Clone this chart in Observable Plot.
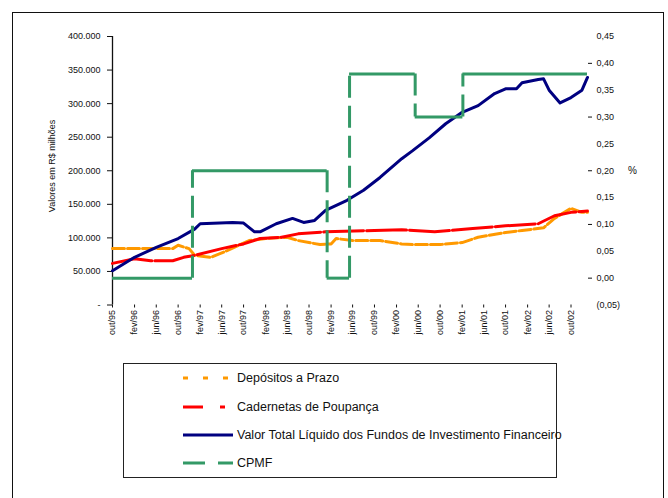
<!DOCTYPE html>
<html>
<head>
<meta charset="utf-8">
<script src="https://cdn.jsdelivr.net/npm/d3@7"></script>
<script src="https://cdn.jsdelivr.net/npm/@observablehq/plot@0.6"></script>
<style>
  html, body { margin: 0; padding: 0; background: #fff; overflow: hidden; }
  #quadro { position: relative; width: 668px; height: 498px; overflow: hidden;
            font-family: "Liberation Sans", Arial, sans-serif; color: #111; }
  #borda { position: absolute; left: 12px; top: 12px; width: 650px; height: 600px;
           border: 1.5px solid #111; }
  #grafico { position: absolute; left: 0; top: 0; }
  .rotulo { position: absolute; white-space: nowrap; }
  #titulo-esq { left: 52px; top: 166px; font-size: 9px;
                transform: translate(-50%, -50%) rotate(-90deg); }
  #titulo-dir { left: 628px; top: 165px; font-size: 10px; }
  #legenda { position: absolute; left: 123px; top: 363px; width: 432px; height: 113px;
             border: 1.5px solid #222; }
  .item { position: absolute; left: 183px; height: 16px; line-height: 16px;
          font-size: 12.5px; white-space: nowrap; }
  .item svg { position: absolute; left: 0; top: 6px; }
  .item span { position: absolute; left: 54px; top: 0; }
</style>
</head>
<body>
<div id="quadro">
  <div id="borda"></div>
  <div id="grafico"></div>
  <div class="rotulo" id="titulo-esq">Valores em R$ milhões</div>
  <div class="rotulo" id="titulo-dir">%</div>
  <div id="legenda"></div>
  <div id="itens"></div>
</div>
<script>
// Depósitos a prazo (R$ milhões)
const depositosDatas = ["1995-10","1996-09","1996-10","1996-12","1997-01","1997-04","1997-07","1997-11",
  "1998-02","1998-06","1998-08","1998-12","1999-02","1999-03","1999-06","1999-11","2000-03","2000-05",
  "2000-10","2001-02","2001-05","2001-10","2002-01","2002-05","2002-07","2002-10","2002-12","2003-01"];
const depositosValores = [84000,84000,89000,84000,74000,71000,81000,96000,
  99000,101000,96000,90000,91000,99000,96000,96000,91000,90000,
  90000,93000,101000,108000,111000,115000,129000,144000,138000,138000];

// Cadernetas de poupança (R$ milhões)
const poupancaDatas = ["1995-10","1996-02","1996-05","1996-09","1996-11","1997-01","1997-06","1997-10",
  "1998-01","1998-05","1998-08","1999-01","1999-10","2000-03","2000-09","2001-04","2001-10","2002-04",
  "2002-07","2002-10","2003-01"];
const poupancaValores = [62000,69000,66000,66000,71000,74000,84000,91000,
  99000,101000,106000,109000,111000,112000,109000,114000,118000,121000,
  133000,138000,140000];

// Fundos de investimento (R$ milhões)
const fundosDatas = ["1995-10","1996-02","1996-06","1996-10","1997-01","1997-02","1997-08","1997-10",
  "1997-12","1998-01","1998-04","1998-07","1998-09","1998-11","1999-01","1999-05","1999-08","1999-11",
  "2000-03","2000-05","2000-08","2000-11","2001-02","2001-05","2001-08","2001-10","2001-12","2002-01",
  "2002-04","2002-05","2002-06","2002-08","2002-10","2002-12","2003-01"];
const fundosValores = [51000,71000,86000,99000,113000,121000,123000,122000,
  109000,109000,121000,129000,123000,126000,141000,156000,171000,190000,
  218000,230000,249000,270000,287000,297000,315000,322000,322000,331000,
  336000,337000,320000,301000,309000,320000,339000];

// Alíquota da CPMF (%), por período de vigência
const cpmfInicio = ["1995-10-01","1996-12-20","1999-01-10","1999-05-15","2000-05-15","2001-02-05"];
const cpmfAliquota = [0, 0.20, 0, 0.38, 0.30, 0.38];
const fimPeriodo = "2003-01-01";

// Eixos
const ticksValores = [0, 50000, 100000, 150000, 200000, 250000, 300000, 350000, 400000];
const ticksPercentual = [-0.05, 0, 0.05, 0.10, 0.15, 0.20, 0.25, 0.30, 0.35, 0.40, 0.45];
const marcasPercentual = [0, 0.10, 0.20, 0.30, 0.40];
const datasEixoX = ["1995-10","1996-02","1996-06","1996-10","1997-02","1997-06","1997-10","1998-02",
  "1998-06","1998-10","1999-02","1999-06","1999-10","2000-02","2000-06","2000-10","2001-02","2001-06",
  "2001-10","2002-02","2002-06","2002-10"];
const mesesPt = ["jan","fev","mar","abr","mai","jun","jul","ago","set","out","nov","dez"];

const nomes = ["Depósitos a Prazo", "Cadernetas de Poupança",
  "Valor Total Líquido dos Fundos de Investimento Financeiro", "CPMF"];
const cores = ["#FF9900", "#FF0000", "#000080", "#339966"];

const dt = s => new Date(s.length === 7 ? s + "-01" : s);
const serie = (datas, valores) => datas.map((d, i) => ({data: dt(d), valor: valores[i]}));

// the percentage axis shares the vertical scale: -0,05% ↔ 0 and 0,45% ↔ 400.000
const paraEsq = p => (p + 0.05) * 800000;
const deEsq = v => v / 800000 - 0.05;
const fmtPct = p => {
  const r = Math.round(p * 100) / 100;
  const s = Math.abs(r).toFixed(2).replace(".", ",");
  return r < 0 ? `(${s})` : s;
};
const fmtValor = v => v === 0 ? "-" : d3.format(",")(v).replace(/,/g, ".");

const depositos = serie(depositosDatas, depositosValores);
const poupanca = serie(poupancaDatas, poupancaValores);
const fundos = serie(fundosDatas, fundosValores);
const periodos = cpmfInicio.map((d, i) => ({
  inicio: dt(d), fim: dt(cpmfInicio[i + 1] ?? fimPeriodo), y: paraEsq(cpmfAliquota[i])
}));
const trocas = cpmfInicio.slice(1).map((d, i) => ({
  data: dt(d), de: paraEsq(cpmfAliquota[i]), para: paraEsq(cpmfAliquota[i + 1])
}));

const chart = Plot.plot({
  width: 668,
  height: 498,
  marginLeft: 112,
  marginRight: 81,
  marginTop: 36,
  marginBottom: 193.5,
  style: {fontFamily: "Liberation Sans, Arial, sans-serif", fontSize: "9px", color: "#111", background: "transparent"},
  x: {type: "utc", domain: [dt("1995-10"), dt(fimPeriodo)]},
  y: {domain: [0, 400000]},
  marks: [
    Plot.axisY({anchor: "left", ticks: ticksValores, tickFormat: fmtValor, tickSize: 5, tickPadding: 7, label: null}),
    Plot.axisY({anchor: "right", ticks: ticksPercentual.map(paraEsq), tickFormat: v => fmtPct(deEsq(v)),
                tickSize: 0, tickPadding: 9, label: null}),
    Plot.axisY({anchor: "right", ticks: marcasPercentual.map(paraEsq), tickFormat: () => "",
                tickSize: 4, label: null}),
    Plot.axisX({ticks: datasEixoX.map(dt),
                tickFormat: d => `${mesesPt[d.getUTCMonth()]}/${String(d.getUTCFullYear()).slice(2)}`,
                tickRotate: -90, tickSize: 3, tickPadding: 2, label: null}),
    Plot.ruleX([dt("1995-10")], {stroke: "#111", strokeWidth: 1.3}),
    Plot.line(depositos, {x: "data", y: "valor", stroke: cores[0], strokeWidth: 3, strokeDasharray: "12,3"}),
    Plot.line(poupanca, {x: "data", y: "valor", stroke: cores[1], strokeWidth: 3, strokeDasharray: "40,3"}),
    Plot.line(fundos, {x: "data", y: "valor", stroke: cores[2], strokeWidth: 3}),
    Plot.ruleY(periodos, {x1: "inicio", x2: "fim", y: "y", stroke: cores[3], strokeWidth: 3}),
    Plot.ruleX(trocas, {x: "data", y1: "de", y2: "para", stroke: cores[3], strokeWidth: 3, strokeDasharray: "22,8"})
  ]
});
document.getElementById("grafico").appendChild(chart);

// legend rows
const tracos = ["5,15", "20,17,5,100", null, "22,13"];
const linhasY = [378, 407, 435, 463];
const itens = document.getElementById("itens");
nomes.forEach((nome, i) => {
  const div = document.createElement("div");
  div.className = "item";
  div.style.top = (linhasY[i] - 8) + "px";
  div.innerHTML = `<svg width="50" height="4"><line x1="0" y1="2" x2="50" y2="2" stroke="${cores[i]}"
    stroke-width="3"${tracos[i] ? ` stroke-dasharray="${tracos[i]}"` : ""}/></svg><span></span>`;
  div.querySelector("span").textContent = nome;
  itens.appendChild(div);
});
</script>
</body>
</html>
